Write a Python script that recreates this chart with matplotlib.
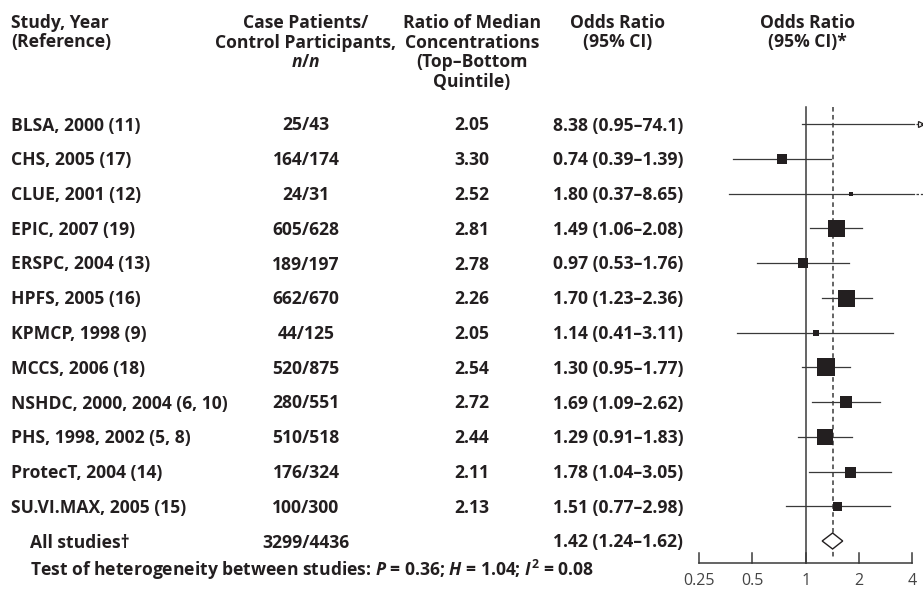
import numpy as np
import matplotlib
matplotlib.use('Agg')
import matplotlib.pyplot as plt
from matplotlib.patches import Polygon

# study rows, top to bottom
studies = ['BLSA, 2000 (11)', 'CHS, 2005 (17)', 'CLUE, 2001 (12)', 'EPIC, 2007 (19)',
           'ERSPC, 2004 (13)', 'HPFS, 2005 (16)', 'KPMCP, 1998 (9)', 'MCCS, 2006 (18)',
           'NSHDC, 2000, 2004 (6, 10)', 'PHS, 1998, 2002 (5, 8)', 'ProtecT, 2004 (14)',
           'SU.VI.MAX, 2005 (15)']
cases = ['25/43', '164/174', '24/31', '605/628', '189/197', '662/670', '44/125',
         '520/875', '280/551', '510/518', '176/324', '100/300']
ratio = [2.05, 3.30, 2.52, 2.81, 2.78, 2.26, 2.05, 2.54, 2.72, 2.44, 2.11, 2.13]
odds = [8.38, 0.74, 1.80, 1.49, 0.97, 1.70, 1.14, 1.30, 1.69, 1.29, 1.78, 1.51]
ci_low = [0.95, 0.39, 0.37, 1.06, 0.53, 1.23, 0.41, 0.95, 1.09, 0.91, 1.04, 0.77]
ci_high = [74.1, 1.39, 8.65, 2.08, 1.76, 2.36, 3.11, 1.77, 2.62, 1.83, 3.05, 2.98]
weights = [4, 10, 4, 17, 10, 17, 6, 18, 12, 16, 11, 9]   # relative study weight (box side)

pooled_label = 'All studies\u2020'
pooled_cases = '3299/4436'
pooled_or, pooled_lo, pooled_hi = 1.42, 1.24, 1.62
het_p, het_h, het_i2 = 0.36, 1.04, 0.08
ticks = [0.25, 0.5, 1, 2, 4]

dark = '#231f20'
line_c = '#3a3a3a'
fs = 12.6

plt.rcParams['font.family'] = ['Open Sans', 'DejaVu Sans']
plt.rcParams['mathtext.fontset'] = 'custom'
plt.rcParams['mathtext.it'] = 'Open Sans:italic:bold'
plt.rcParams['mathtext.rm'] = 'Open Sans:bold'
plt.rcParams['mathtext.bf'] = 'Open Sans:bold'


def fmt(v):
    return '{:.1f}'.format(v) if v >= 10 else '{:.2f}'.format(v)


W, H = 923, 591
fig = plt.figure(figsize=(W / 100, H / 100), dpi=100)

# text layer in pixel coordinates
tx = fig.add_axes([0, 0, 1, 1])
tx.set_xlim(0, W)
tx.set_ylim(H, 0)
tx.axis('off')

# forest panel, log scale
ax = fig.add_axes([690 / W, 0, 233 / W, 1])
ax.set_xscale('log', base=2)
ax.set_xlim(0.2222, 4.603)
ax.set_ylim(H, 0)
ax.axis('off')

col_study, col_case, col_ratio, col_or, col_plot = 11, 306, 472, 618, 807
headers = [
    (col_study, 'left', ['Study, Year', '(Reference)']),
    (col_case, 'center', ['Case Patients/', 'Control Participants,', '$n$/$n$']),
    (col_ratio, 'center', ['Ratio of Median', 'Concentrations', '(Top\u2013Bottom', 'Quintile)']),
    (col_or, 'center', ['Odds Ratio', '(95% CI)']),
    (col_plot, 'center', ['Odds Ratio', '(95% CI)*']),
]
for x, ha, lines in headers:
    for k, s in enumerate(lines):
        tx.text(x, 28 + 19.5 * k, s, ha=ha, va='baseline', fontsize=fs,
                fontweight='bold', color=dark)

row_y = 124 + 34.75 * np.arange(len(studies) + 1)

for i, name in enumerate(studies):
    yb = row_y[i] + 6.5
    tx.text(col_study, yb, name, ha='left', va='baseline', fontsize=fs, fontweight='bold', color=dark)
    tx.text(col_case, yb, cases[i], ha='center', va='baseline', fontsize=fs, fontweight='bold', color=dark)
    tx.text(col_ratio, yb, '{:.2f}'.format(ratio[i]), ha='center', va='baseline',
            fontsize=fs, fontweight='bold', color=dark)
    tx.text(col_or, yb, '{} ({}\u2013{})'.format(fmt(odds[i]), fmt(ci_low[i]), fmt(ci_high[i])),
            ha='center', va='baseline', fontsize=fs, fontweight='bold', color=dark)

    y = row_y[i]
    hi = ci_high[i]
    if hi > ticks[-1] * 1.1:
        # off-scale upper limit: line runs to the edge with a broken tail
        ax.plot([ci_low[i], 4.12], [y, y], color=line_c, lw=0.9)
        ax.plot([4.18, 4.6], [y, y], color=line_c, lw=0.9, dashes=(2, 1.5))
        if hi > 10 * ticks[-1]:
            ax.plot([4.5], [y], marker='>', ms=4, mfc='none', mec=dark, mew=0.9)
    else:
        ax.plot([ci_low[i], hi], [y, y], color=line_c, lw=0.9)
    ax.plot([odds[i]], [y], marker='s', ms=weights[i] * 0.72, color=dark, mec=dark, mew=0)

# pooled row
yp = row_y[-1]
tx.text(30, yp + 6.5, pooled_label, ha='left', va='baseline', fontsize=fs, fontweight='bold', color=dark)
tx.text(col_case, yp + 6.5, pooled_cases, ha='center', va='baseline', fontsize=fs,
        fontweight='bold', color=dark)
tx.text(col_or, yp + 6.5, '{:.2f} ({:.2f}\u2013{:.2f})'.format(pooled_or, pooled_lo, pooled_hi),
        ha='center', va='baseline', fontsize=fs, fontweight='bold', color=dark)
ax.add_patch(Polygon([(pooled_lo, yp), (pooled_or, yp - 8), (pooled_hi, yp), (pooled_or, yp + 8)],
                     closed=True, facecolor='white', edgecolor=dark, lw=1.0, zorder=3))

tx.text(30, 576, 'Test of heterogeneity between studies: $P$ = {:.2f}; $H$ = {:.2f}; $I^2$ = {:.2f}'
        .format(het_p, het_h, het_i2), ha='left', va='baseline', fontsize=fs,
        fontweight='bold', color=dark)

# reference lines
ax.plot([1, 1], [107, 563], color=line_c, lw=1.1, zorder=1)
ax.plot([pooled_or, pooled_or], [107, 558], color=line_c, lw=1.1, dashes=(3, 2.2), zorder=1)

# bottom axis
ax.plot([ticks[0], ticks[-1]], [563, 563], color=line_c, lw=1.1)
for t in ticks:
    ax.plot([t, t], [553, 563], color=line_c, lw=1.1)
    ax.text(t, 589, '{:g}'.format(t), ha='center', va='bottom', fontsize=11.5, color='#444444')

fig.savefig('out.png', dpi=100)
